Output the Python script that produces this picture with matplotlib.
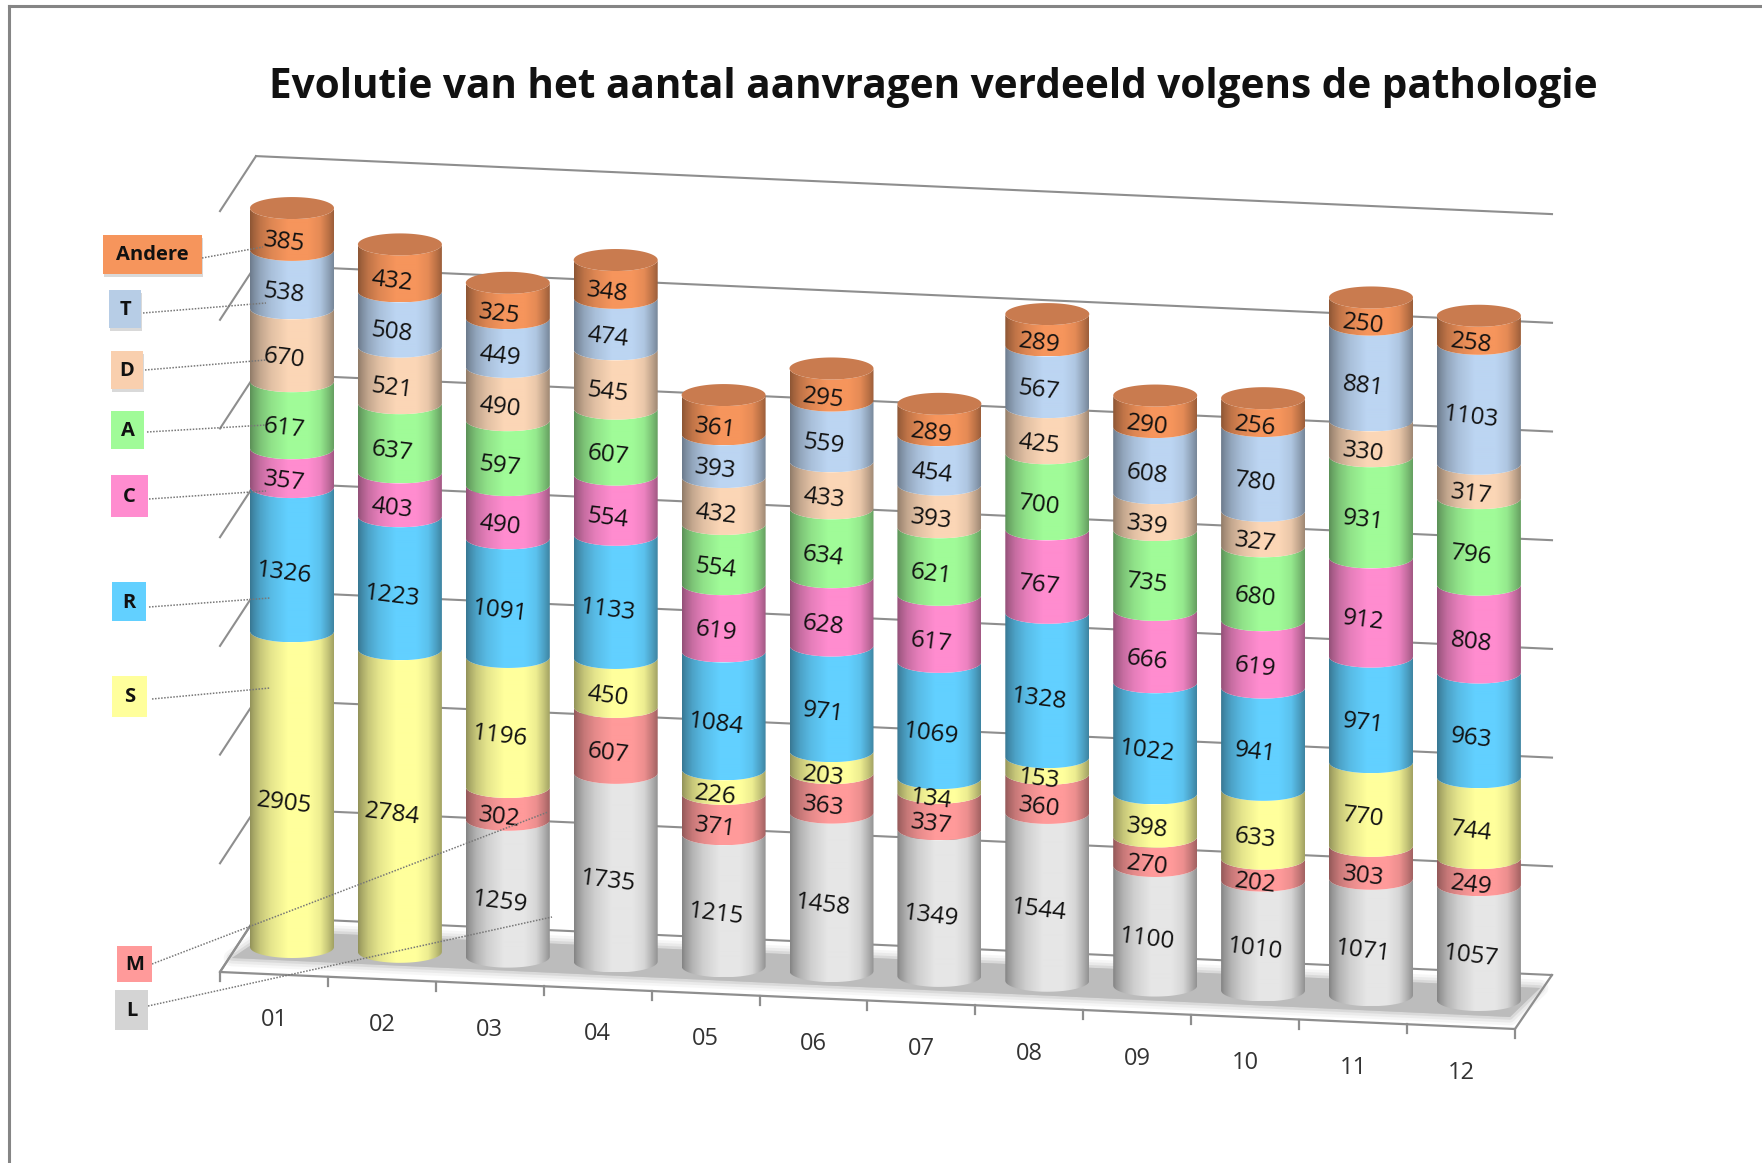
#!/usr/bin/env python3
"""Stacked 3D-look cylinder chart: aanvragen per maand, per pathologie."""
import matplotlib

matplotlib.use("Agg")
import matplotlib.pyplot as plt
import numpy as np
from matplotlib.patches import PathPatch, Polygon, Rectangle
from matplotlib.path import Path
from matplotlib.transforms import Affine2D

months = ["01", "02", "03", "04", "05", "06", "07", "08", "09", "10", "11", "12"]
# 0 = not shown for that month
L = [0, 0, 1259, 1735, 1215, 1458, 1349, 1544, 1100, 1010, 1071, 1057]
M = [0, 0, 302, 607, 371, 363, 337, 360, 270, 202, 303, 249]
S = [2905, 2784, 1196, 450, 226, 203, 134, 153, 398, 633, 770, 744]
R = [1326, 1223, 1091, 1133, 1084, 971, 1069, 1328, 1022, 941, 971, 963]
C = [357, 403, 490, 554, 619, 628, 617, 767, 666, 619, 912, 808]
A = [617, 637, 597, 607, 554, 634, 621, 700, 735, 680, 931, 796]
D = [670, 521, 490, 545, 432, 433, 393, 425, 339, 327, 330, 317]
T = [538, 508, 449, 474, 393, 559, 454, 567, 608, 780, 881, 1103]
Andere = [385, 432, 325, 348, 361, 295, 289, 289, 290, 256, 250, 258]

series = [L, M, S, R, C, A, D, T, Andere]
names = ["L", "M", "S", "R", "C", "A", "D", "T", "Andere"]
colors = ["#e6e6e6", "#ff9a9a", "#ffff9c", "#62d0ff", "#ff8ccf",
          "#a0fb98", "#fbd6b6", "#bcd5f2", "#f6955c"]
cap_color = "#c97b4f"
grid_values = np.arange(0, 8000, 1000)

FONT = "Open Sans"
W, H = 1762, 1163

fig = plt.figure(figsize=(W / 100, H / 100), dpi=100)
ax = fig.add_axes([0, 0, 1, 1])
ax.set_xlim(0, W)
ax.set_ylim(H, 0)
ax.axis("off")

# (month index, value) -> picture pixels, slanted like the 3D view
to_px = Affine2D.from_values(107.9, 4.82, 0, -0.1087, 292, 947)
half_w, half_h = 42, 11
theta = np.linspace(np.pi, 0, 50)
arc_x = half_w * np.cos(theta)
arc_y = half_h * np.sin(theta)
t_prof = [0, .04, .12, .25, .45, .7, .84, .94, 1]
f_prof = [.58, .66, .78, .90, 1.0, 1.0, .93, .76, .64]
shade = np.interp(np.linspace(0, 1, 84), t_prof, f_prof)

# outer frame of the picture
ax.plot([8.5, 8.5], [H, 6], color="#858585", lw=2.2, zorder=1)
ax.plot([8.5, W], [6, 6], color="#858585", lw=2.2, zorder=1)

# back wall, side wall and floor
scale = 0.1087
for v in grid_values:
    off = v * scale
    ax.plot([256, 1552], [917 - off, 975 - off], color="#8e8e8e", lw=1.5, zorder=2)
    ax.plot([220, 256], [972 - off, 917 - off], color="#8e8e8e", lw=1.5, zorder=2)

shadow = [(232, 958), (1510, 1017), (1540, 988), (272, 931)]
for lw, alpha in [(12, .12), (8, .2), (4, .35), (0, 1)]:
    ax.add_patch(Polygon(shadow, closed=True, fc="#bcbcbc", ec="#bcbcbc",
                         lw=lw, alpha=alpha, joinstyle="round", zorder=2.2))

ax.plot([256, 220, 1515, 1552], [917, 972, 1029, 975], color="#8e8e8e", lw=1.6, zorder=2.4)
for i in range(13):
    xt = 220 + i * 107.9
    yt = 972 + i * 4.75
    ax.plot([xt, xt], [yt, yt + 9], color="#8e8e8e", lw=1.6, zorder=2.4)


def segment(i, v0, v1, color, z):
    (x, y0), (_, y1) = to_px.transform([(i, v0), (i, v1)])
    px = np.r_[x + arc_x, x + arc_x[::-1]]
    py = np.r_[y0 + arc_y, y1 + arc_y[::-1]]
    patch = PathPatch(Path(np.c_[px, py]), transform=ax.transData, fc="none", ec="none")
    rgb = np.array(matplotlib.colors.to_rgb(color))
    img = np.clip(rgb[None, :] * shade[:, None], 0, 1)[None, :, :]
    im = ax.imshow(img, extent=(x - half_w, x + half_w, y0 + half_h, y1 - 1),
                   aspect="auto", interpolation="bilinear", zorder=z)
    im.set_clip_path(patch)


for i, month in enumerate(months):
    z = 3 + i * 0.01
    base = 0
    for vals, color in zip(series, colors):
        val = vals[i]
        if val == 0:
            continue
        segment(i, base, base + val, color, z)
        xm, ym = to_px.transform((i, base + val / 2))
        ax.text(xm - 8, ym + half_h + 3, str(val), fontsize=17.5, family=FONT, color="#111111",
                rotation=-7, rotation_mode="anchor", ha="center", va="center", zorder=6)
        base += val
    xt, yt = to_px.transform((i, base))
    th = np.linspace(0, 2 * np.pi, 80)
    ax.fill(xt + half_w * np.cos(th), yt + half_h * np.sin(th), color=cap_color, lw=0, zorder=z + 0.001)
    x0, y0 = to_px.transform((i, 0))
    ax.text(x0 - 18, y0 + 73, month, fontsize=17, family=FONT, color="#333333",
            ha="center", va="center", zorder=6)

# legend boxes with dotted leaders, placed by hand like in the original
boxes = {
    "Andere": (103, 235, 202, 274),
    "T": (109, 290, 141, 328),
    "D": (111, 351, 143, 389),
    "A": (111, 411, 144, 449),
    "C": (111, 475, 148, 517),
    "R": (112, 582, 146, 621),
    "S": (112, 676, 147, 717),
    "M": (117, 946, 152, 982),
    "L": (115, 990, 148, 1030),
}
leaders = {
    "Andere": (202, 258, 263, 247),
    "T": (143, 313, 266, 303),
    "D": (145, 370, 266, 360),
    "A": (147, 432, 266, 425),
    "C": (149, 499, 266, 491),
    "R": (149, 607, 270, 598),
    "S": (152, 699, 270, 688),
    "M": (152, 964, 548, 812),
    "L": (148, 1006, 552, 917),
}
box_colors = dict(zip(names, colors))
box_colors.update(L="#d4d4d4", T="#b7cde6", D="#f9cfae")
for name in names:
    xa, ya, xb, yb = boxes[name]
    if name in ("Andere", "T", "D"):
        ax.add_patch(Rectangle((xa + 1, ya + 3), xb - xa, yb - ya, fc="#a0a0a0", ec="none",
                               alpha=.4, zorder=6.5))
    ax.add_patch(Rectangle((xa, ya), xb - xa, yb - ya, fc=box_colors[name], ec="none", zorder=7))
    ax.text((xa + xb) / 2, (ya + yb) / 2 + 1, name, fontsize=14.5, family=FONT, fontweight="bold",
            color="#111111", ha="center", va="center", zorder=8)
    x1, y1, x2, y2 = leaders[name]
    ax.plot([x1, x2], [y1, y2], color="#777777", lw=1.1, ls=(0, (1, 1)), zorder=6.8)

ax.text(933, 87, "Evolutie van het aantal aanvragen verdeeld volgens de pathologie",
        fontsize=29.2, family=FONT, fontweight="bold", color="#111111",
        ha="center", va="center", zorder=8)

fig.savefig("out.png", dpi=100)
